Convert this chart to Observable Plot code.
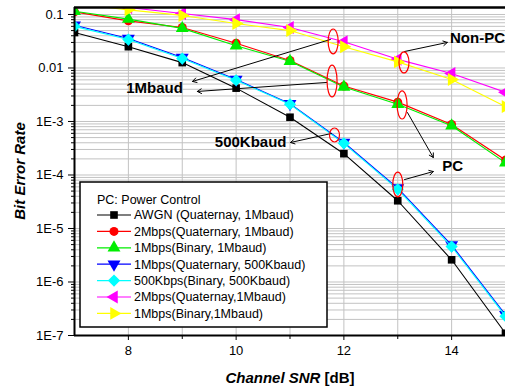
<!DOCTYPE html>
<html><head><meta charset="utf-8">
<script src="https://cdn.jsdelivr.net/npm/d3@7"></script>
<script src="https://cdn.jsdelivr.net/npm/@observablehq/plot@0.6"></script>
<style>body{margin:0;background:#fff;font-family:"Liberation Sans",Arial,sans-serif}</style>
</head><body><div id="chart"></div>
<script>
// ---- data ----
const snr = [7, 8, 9, 10, 11, 12, 13, 14, 15];
const awgn   = [0.046, 0.025, 0.0126, 0.0042, 0.0012, 2.5e-4, 3.3e-5, 2.6e-6, 1.1e-7];
const q2M    = [0.112, 0.076, 0.057, 0.029, 0.0138, 0.0046, 0.0023, 8.8e-4, 1.9e-4];
const b1M    = [0.115, 0.082, 0.055, 0.026, 0.0134, 0.0044, 0.0021, 8.3e-4, 1.7e-4];
const q500   = [0.063, 0.0355, 0.0157, 0.0061, 0.00215, 4.05e-4, 5.7e-5, 4.9e-6, 2.45e-7];
const b500   = [0.060, 0.034, 0.015, 0.0059, 0.0021, 3.9e-4, 5.4e-5, 4.6e-6, 2.3e-7];
const q2MNPC = [0.17, 0.135, 0.104, 0.080, 0.057, 0.031, 0.0145, 0.0079, 0.0035];
const b1MNPC = [0.16, 0.122, 0.096, 0.068, 0.050, 0.025, 0.013, 0.0061, 0.0019];
const seriesNames = [
  "AWGN (Quaternay, 1Mbaud)",
  "2Mbps(Quaternary, 1Mbaud)",
  "1Mbps(Binary, 1Mbaud)",
  "1Mbps(Quaternary, 500Kbaud)",
  "500Kbps(Binary, 500Kbaud)",
  "2Mbps(Quaternay,1Mbaud)",
  "1Mbps(Binary,1Mbaud)"
];
const seriesValues = [awgn, q2M, b1M, q500, b500, q2MNPC, b1MNPC];
const legendTitle = "PC: Power Control";
const yTickValues = [1e-7, 1e-6, 1e-5, 1e-4, 1e-3, 0.01, 0.1];
const yTickLabels = ["1E-7", "1E-6", "1E-5", "1E-4", "1E-3", "0.01", "0.1"];
const xTickValues = [8, 10, 12, 14];
const xMinorTicks = [9, 11, 13];
// annotations (data units)
const noteTexts = ["Non-PC", "1Mbaud", "500Kbaud", "PC"];
const noteX = [14.48, 8.485, 10.27, 14.02];
const noteY = [0.0356, 0.00414, 4.05e-4, 1.44e-4];
const ellX  = [11.81, 13.125, 11.79, 13.09, 11.835, 13.01];
const ellY1 = [0.0524, 0.0195, 0.0111, 0.00364, 7.4e-4, 1.11e-4];
const ellY2 = [0.0179, 0.0079, 0.00281, 0.00109, 4.05e-4, 3.8e-5];
const arrX1 = [13.125, 11.75, 11.68, 11.77, 13.18, 13.125];
const arrY1 = [0.0203, 0.0341, 0.00536, 5.97e-4, 0.00147, 8.2e-5];
const arrX2 = [13.92, 9.19, 9.28, 11.01, 13.66, 13.66];
const arrY2 = [0.030, 0.0056, 0.00364, 4.05e-4, 2.12e-4, 1.16e-4];

// ---- styles ----
const colors  = ["#000000", "#ff0000", "#00ee00", "#0000ff", "#00ffff", "#ff00ff", "#ffff00"];
const symbols = ["square", "circle", "triangle", "triangle", "diamond2", "triangle", "triangle"];
const rotates = [0, 0, 0, 180, 0, -90, 90];
const radii   = [4.3, 4.5, 4.8, 4.8, 5.5, 4.8, 4.8];

const rows = [];
seriesValues.forEach((vals, i) => vals.forEach((v, j) => rows.push({s: i, x: snr[j], y: v})));
const yTop = 0.135;
const minorY = [];
for (let e = -7; e <= -1; e++) for (let k = 1; k <= 9; k++) { const v = k * Math.pow(10, e); if (v <= yTop) minorY.push(v); }
const minorOnly = minorY.filter(v => !yTickValues.some(t => Math.abs(t - v) / t < 1e-6));

const marks = [
  Plot.ruleY(minorY, {y: d => d, stroke: "#c2c2c2", strokeOpacity: 1, strokeWidth: 1}),
  Plot.ruleX(snr, {x: d => d, stroke: "#c2c2c2", strokeOpacity: 1, strokeWidth: 1})
];
seriesValues.forEach((_, i) => {
  const data = rows.filter(r => r.s === i);
  marks.push(Plot.line(data, {x: "x", y: "y", stroke: colors[i], strokeWidth: 1.1, clip: true}));
  marks.push(Plot.dot(data, {x: "x", y: "y", symbol: symbols[i], r: radii[i], fill: colors[i], stroke: "none", rotate: rotates[i], clip: true}));
});
marks.push(
  Plot.ruleX([7], {x: d => d, stroke: "#000", strokeWidth: 2}),
  Plot.ruleY([1e-7], {y: d => d, stroke: "#000", strokeWidth: 2}),
  Plot.ruleY([yTop], {y: d => d, stroke: "#000", strokeWidth: 2.5}),
  Plot.axisY(yTickValues, {tickSize: 6, tickPadding: 5, tickFormat: d => yTickLabels[yTickValues.indexOf(d)], fontSize: 13, label: null, stroke: "#000"}),
  Plot.axisY(minorOnly, {tickSize: 3, tickFormat: () => "", label: null}),
  Plot.axisX(xTickValues, {tickSize: 5, tickPadding: 5, tickFormat: d => String(d), fontSize: 13, label: null}),
  Plot.axisX(xMinorTicks, {tickSize: 4, tickFormat: () => "", label: null}),
  Plot.arrow(arrX1.map((d, i) => i), {x1: i => arrX1[i], y1: i => arrY1[i], x2: i => arrX2[i], y2: i => arrY2[i], stroke: "#000", strokeWidth: 1, headLength: 7, bend: false}),
  Plot.text(noteTexts.map((d, i) => i), {x: i => noteX[i], y: i => noteY[i], text: i => noteTexts[i], textAnchor: "middle", fontSize: 15, fontWeight: "bold", fill: "#000"})
);

const plot = Plot.plot({
  width: 505, height: 387,
  marginTop: 7, marginBottom: 52, marginLeft: 74, marginRight: 0,
  x: {domain: [7, 15]},
  y: {type: "log", domain: [1e-7, yTop]},
  style: {fontFamily: "'Liberation Sans', Arial, sans-serif", fontSize: "13px", color: "#000", background: "#fff"},
  marks
});

const svg = d3.select(plot);
const sx = plot.scale("x"), sy = plot.scale("y");
// ellipses
const eg = svg.append("g");
ellX.forEach((x, i) => {
  const cy1 = sy.apply(ellY1[i]), cy2 = sy.apply(ellY2[i]);
  eg.append("ellipse").attr("cx", sx.apply(x)).attr("cy", (cy1 + cy2) / 2)
    .attr("rx", 5).attr("ry", Math.abs(cy2 - cy1) / 2)
    .attr("fill", "none").attr("stroke", "#ff0000").attr("stroke-width", 1.2);
});
// legend
const lg = svg.append("g").attr("font-family", "'Liberation Sans', Arial, sans-serif").attr("font-size", 12.5).attr("text-anchor", "start");
lg.append("rect").attr("x", 80).attr("y", 182).attr("width", 247).attr("height", 145)
  .attr("fill", "#fff").attr("stroke", "#000").attr("stroke-width", 1.5);
lg.append("text").attr("x", 97).attr("y", 200).attr("dy", "0.35em").attr("text-anchor", "start").text(legendTitle);
const symMap = {square: d3.symbolSquare, circle: d3.symbolCircle, triangle: d3.symbolTriangle, diamond2: d3.symbolDiamond2};
seriesNames.forEach((name, i) => {
  const yy = 215 + i * 16.4;
  lg.append("line").attr("x1", 97).attr("x2", 131).attr("y1", yy).attr("y2", yy).attr("stroke", colors[i]).attr("stroke-width", 1.2);
  lg.append("path").attr("d", d3.symbol(symMap[symbols[i]], Math.PI * radii[i] * radii[i])())
    .attr("transform", `translate(114,${yy}) rotate(${rotates[i]})`).attr("fill", colors[i]);
  lg.append("text").attr("x", 134).attr("y", yy).attr("dy", "0.35em").attr("text-anchor", "start").text(name);
});
// axis titles
const yt = svg.append("text").attr("transform", "translate(20,171) rotate(-90)").attr("text-anchor", "middle")
  .attr("dy", "0.35em").attr("font-size", 15).attr("font-weight", "bold").attr("font-style", "italic")
  .attr("font-family", "'Liberation Sans', Arial, sans-serif").text("Bit Error Rate");
const xt = svg.append("text").attr("x", 290).attr("y", 378).attr("text-anchor", "middle").attr("dy", "0.35em")
  .attr("font-size", 15).attr("font-weight", "bold").attr("font-family", "'Liberation Sans', Arial, sans-serif");
xt.append("tspan").attr("font-style", "italic").text("Channel SNR");
xt.append("tspan").text(" [dB]");

document.getElementById("chart").appendChild(plot);
</script>
</body></html>
